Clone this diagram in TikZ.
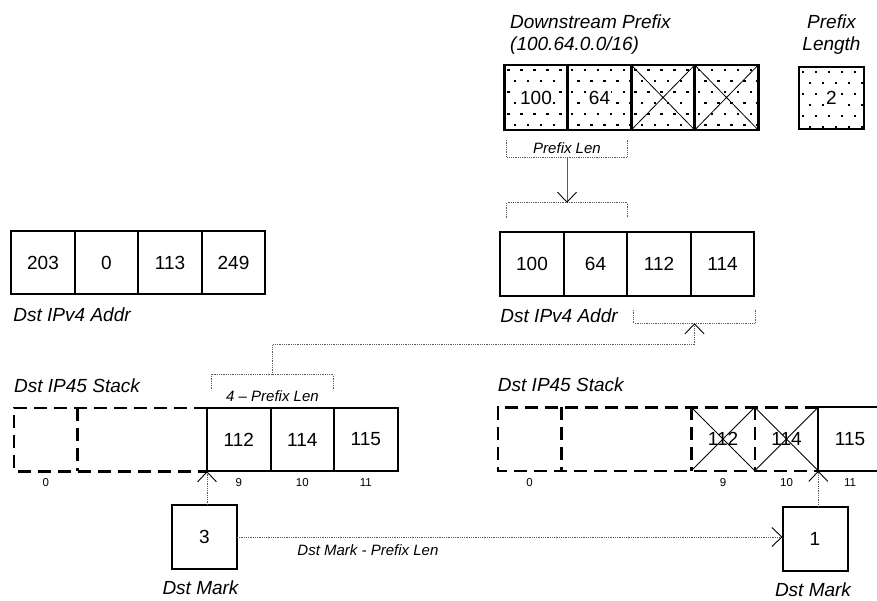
\documentclass[tikz,border=0pt]{standalone}
\usepackage{fontspec}
\setmainfont{Liberation Sans}
\usetikzlibrary{positioning,arrows.meta,calc}
\definecolor{gris}{HTML}{5A5A5A}
\setlength{\fboxsep}{1pt}
\newcommand{\tamgrande}{\fontsize{19}{22}\selectfont}
\newcommand{\tammedio}{\fontsize{15}{18}\selectfont}
\newcommand{\tamchico}{\fontsize{11.5}{13}\selectfont}

\begin{document}
\begin{tikzpicture}[x=1pt, y=-1pt,
  celda/.style={draw, line width=2pt, minimum width=63.5pt, minimum height=63.5pt,
    inner sep=0pt, outer sep=0pt, font=\tamgrande},
  hueco/.style={celda, draw=none},
  gruesa/.style={line width=2.6pt},
  discont/.style={line width=2.5pt, dash pattern=on 13pt off 7pt},
  cruz/.style={line width=0.8pt},
  etiq/.style={font=\tamgrande\itshape, inner sep=0pt},
  indice/.style={font=\tamchico, label distance=4pt},
  corchete/.style={gris, line width=0.8pt, densely dotted},
  textocorch/.style={font=\tammedio\itshape, inner sep=0pt, text=black},
  flecha/.style={-{Straight Barb[length=10pt, width=19pt, line width=0.9pt, color=black]}},
  punteado/.style={path picture={
    \foreach \j in {0,...,5}{
      \foreach \i in {0,...,5}{
        \pgfmathsetmacro\dx{3+13*\i+6.5*mod(\j,2)}
        \pgfmathsetmacro\dy{4+11*\j}
        \fill ([xshift=\dx pt, yshift=-\dy pt]path picture bounding box.north west)
          rectangle ++(2.4pt,-2.4pt);
      }}}}
]
\useasboundingbox (0,0) rectangle (877,600);

% prefijo de bajada
\node[celda, gruesa, punteado, minimum height=65pt] (p1) at (536,97.5) {\colorbox{white}{100}};
\node[celda, gruesa, punteado, minimum height=65pt, right=0pt of p1] (p2) {\colorbox{white}{64}};
\node[celda, gruesa, punteado, minimum height=65pt, right=0pt of p2] (p3) {};
\node[celda, gruesa, punteado, minimum height=65pt, right=0pt of p3] (p4) {};
\foreach \c in {p3,p4}
  \draw[cruz] (\c.north west) -- (\c.south east) (\c.north east) -- (\c.south west);
\node[celda, gruesa, punteado, minimum width=65pt, minimum height=62pt] (lp) at (831.5,98)
  {\colorbox{white}{2}};
\node[etiq, align=left, anchor=north west] (tdp) at (510,14.5) {Downstream Prefix\\(100.64.0.0/16)};
\node[etiq, align=center, anchor=north] (tlp) at (831.5,14.5) {Prefix\\Length};

% corchetes de la longitud de prefijo
\node[textocorch, minimum width=120pt, minimum height=17pt] (cpl) at (567,148.5) {Prefix Len};
\draw[corchete] (cpl.north west) -- (cpl.south west) -- (cpl.south east) -- (cpl.north east);
\node[minimum width=120pt, minimum height=15pt, inner sep=0pt] (cpl2) at (567,210.5) {};
\draw[corchete] (cpl2.south west) -- (cpl2.north west) -- (cpl2.north east) -- (cpl2.south east);
\draw[gris, line width=0.8pt, flecha] (cpl.south) -- (cpl2.north);

% direcciones IPv4
\node[celda] (a1) at (43,262.5) {203};
\node[celda, right=0pt of a1] (a2) {0};
\node[celda, right=0pt of a2] (a3) {113};
\node[celda, right=0pt of a3] (a4) {249};
\node[etiq, below right=13pt and 2pt of a1.south west] (ta) {Dst IPv4 Addr};

\node[celda] (b1) at (532,264) {100};
\node[celda, right=0pt of b1] (b2) {64};
\node[celda, right=0pt of b2] (b3) {112};
\node[celda, right=0pt of b3] (b4) {114};
\node[etiq, below right=13pt and 0pt of b1.south west] (tb) {Dst IPv4 Addr};
\node[minimum width=121pt, minimum height=13pt, inner sep=0pt] (cb) at (694.5,316.5) {};
\draw[corchete] (cb.north west) -- (cb.south west) -- (cb.south east) -- (cb.north east);

% pila izquierda
\node[hueco, label={[indice]below:0}] (s0) at (45.75,439.5) {};
\node[hueco, minimum width=129.5pt, right=0pt of s0] (sx) {};
\node[celda, label={[indice]below:9}, right=0pt of sx] (s9) {112};
\node[celda, label={[indice]below:10}, right=0pt of s9] (s10) {114};
\node[celda, label={[indice]below:11}, right=0pt of s10] (s11) {115};
\draw[discont] (s9.north west) -- (s0.north west) -- (s0.south west) -- (s9.south west);
\draw[discont] (s0.north east) -- (s0.south east);
\node[etiq, above right=15pt and 0pt of s0.north west] (ts) {Dst IP45 Stack};

\node[minimum width=121pt, minimum height=14pt, inner sep=0pt,
  label={[textocorch, label distance=1pt]below:4 – Prefix Len}] (c4) at (272.5,382) {};
\draw[corchete] (c4.south west) -- (c4.north west) -- (c4.north east) -- (c4.south east);
\draw[corchete, flecha] (c4.north) -- ++(0,-30) -| (cb.south);

% pila derecha
\node[hueco, label={[indice]below:0}] (q0) at (529.5,439) {};
\node[hueco, minimum width=130pt, right=0pt of q0] (qx) {};
\node[hueco, label={[indice]below:9}, right=0pt of qx] (q9) {112};
\node[hueco, label={[indice]below:10}, right=0pt of q9] (q10) {114};
\node[celda, label={[indice]below:11}, right=0pt of q10] (q11) {115};
\draw[discont] (q11.north west) -- (q0.north west) -- (q0.south west) -- (q11.south west);
\foreach \c in {q0,qx,q9}
  \draw[discont] (\c.north east) -- (\c.south east);
\foreach \c in {q9,q10}
  \draw[cruz] (\c.north west) -- (\c.south east) (\c.north east) -- (\c.south west);
\node[etiq, above right=15pt and 0pt of q0.north west] (tq) {Dst IP45 Stack};

% marcas
\node[celda, minimum width=65pt, minimum height=64pt,
  label={[etiq, label distance=12pt, xshift=-4pt]below:Dst Mark}] (m3) at (204.5,537) {3};
\node[celda, minimum width=65pt, minimum height=64pt,
  label={[etiq, label distance=12pt, xshift=-2pt]below:Dst Mark}] (m1) at (815,538.5) {1};
\draw[corchete, flecha] (m3.north -| s9.south west) -- (s9.south west);
\draw[corchete, flecha] (m1.north -| q11.south west) -- (q11.south west);
\draw[corchete, flecha] (m3.east) -- (m3.east -| m1.west)
  node[textocorch, pos=0.24, below=7pt] {Dst Mark - Prefix Len};
\end{tikzpicture}
\end{document}
